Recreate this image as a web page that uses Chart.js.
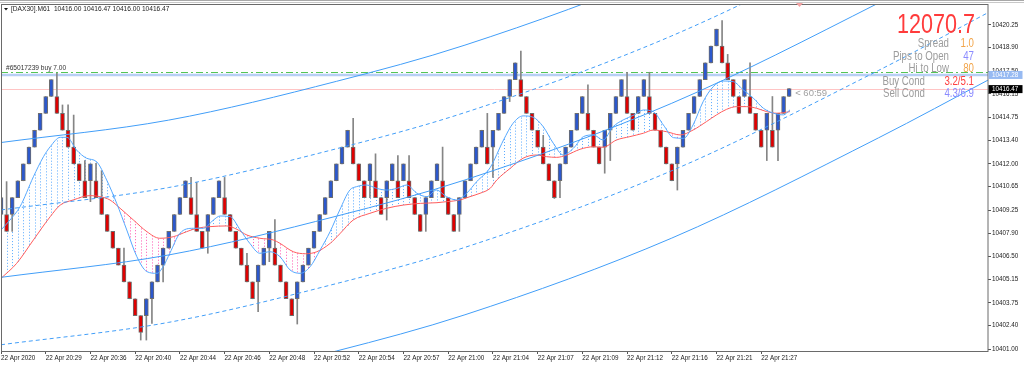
<!DOCTYPE html>
<html>
<head>
<meta charset="utf-8">
<script src="https://cdn.jsdelivr.net/npm/chart.js@4.4.1/dist/chart.umd.min.js"></script>
<style>
  html, body { margin: 0; padding: 0; background: #fff; }
  canvas { display: block; }
</style>
</head>
<body>
<canvas id="dax" width="1024" height="365"></canvas>
<script>
// renko bricks, one per bar index
const opens = [
  10409, 10409, 10409, 10410, 10411, 10412, 10413, 10414, 10415, 10416,
  10416, 10415, 10414, 10413, 10412, 10411, 10411, 10411, 10410, 10409,
  10408, 10407, 10406, 10405, 10404, 10403, 10403, 10404, 10405, 10406,
  10407, 10408, 10409, 10410, 10410, 10409, 10408, 10408, 10409, 10410,
  10410, 10409, 10408, 10407, 10406, 10405, 10405, 10406, 10407, 10407,
  10406, 10405, 10404, 10404, 10405, 10406, 10407, 10408, 10409, 10410,
  10411, 10412, 10413, 10413, 10412, 10411, 10411, 10411, 10410, 10410,
  10411, 10411, 10411, 10411, 10410, 10409, 10409, 10410, 10411, 10411,
  10410, 10409, 10409, 10410, 10411, 10412, 10413, 10413, 10413, 10414,
  10415, 10416, 10417, 10417, 10416, 10415, 10414, 10413, 10412, 10411,
  10411, 10412, 10413, 10414, 10415, 10415, 10414, 10413, 10413, 10414,
  10415, 10416, 10416, 10415, 10415, 10416, 10416, 10415, 10414, 10413,
  10412, 10412, 10413, 10414, 10415, 10416, 10417, 10418, 10419, 10419,
  10418, 10417, 10416, 10416, 10416, 10415, 10414, 10414, 10414, 10414,
  10415, 10416
];
const closes = [
  10410, 10408, 10410, 10411, 10412, 10413, 10414, 10415, 10416, 10417,
  10415, 10414, 10413, 10412, 10411, 10410, 10412, 10410, 10409, 10408,
  10407, 10406, 10405, 10404, 10403, 10402, 10404, 10405, 10406, 10407,
  10408, 10409, 10410, 10411, 10409, 10408, 10407, 10409, 10410, 10411,
  10409, 10408, 10407, 10406, 10405, 10404, 10406, 10407, 10408, 10406,
  10405, 10404, 10403, 10405, 10406, 10407, 10408, 10409, 10410, 10411,
  10412, 10413, 10414, 10412, 10411, 10410, 10412, 10410, 10409, 10411,
  10412, 10410, 10412, 10410, 10409, 10408, 10410, 10411, 10412, 10410,
  10409, 10408, 10410, 10411, 10412, 10413, 10414, 10412, 10414, 10415,
  10416, 10417, 10418, 10416, 10415, 10414, 10413, 10412, 10411, 10410,
  10412, 10413, 10414, 10415, 10416, 10414, 10413, 10412, 10414, 10415,
  10416, 10417, 10415, 10414, 10416, 10417, 10415, 10414, 10413, 10412,
  10411, 10413, 10414, 10415, 10416, 10417, 10418, 10419, 10420, 10418,
  10417, 10416, 10415, 10417, 10415, 10414, 10413, 10415, 10413, 10415,
  10416, 10416.47
];
const highs = [
  10410, 10410.95, 10410, 10411, 10412, 10413, 10414, 10415, 10416, 10417,
  10417.38, 10415.5, 10415.5, 10414.9, 10412, 10412.2, 10412, 10412.04, 10411.6, 10409,
  10408, 10407, 10407, 10405, 10404, 10403, 10404, 10405, 10406, 10407,
  10408, 10409, 10410, 10411, 10411.2, 10410.9, 10408, 10409, 10410, 10411,
  10411.2, 10409, 10408, 10407, 10406.7, 10405, 10406, 10407, 10408, 10408.7,
  10406, 10405, 10404, 10405, 10406, 10407, 10408, 10409, 10410, 10411,
  10412, 10413, 10414, 10414.7, 10412, 10411, 10412, 10412.6, 10410, 10411,
  10412, 10412.5, 10412, 10412.5, 10410, 10409, 10410, 10411, 10412, 10413,
  10410, 10409, 10410, 10411, 10412, 10413, 10414, 10415, 10414, 10415,
  10416, 10417, 10418, 10418.7, 10416, 10415, 10414, 10413.7, 10412, 10411,
  10412, 10413, 10414, 10415, 10416, 10416.7, 10414, 10413, 10414, 10415,
  10416, 10417, 10417.44, 10415, 10416, 10417, 10417.44, 10415, 10414, 10413,
  10412, 10413, 10414, 10415, 10416, 10417, 10418, 10419, 10420, 10420.5,
  10418.5, 10417, 10416, 10417, 10418, 10415, 10414, 10415, 10416, 10415,
  10416, 10416.47
];
const lows = [
  10409, 10408, 10408, 10410, 10411, 10412, 10413, 10414, 10415, 10416,
  10415, 10414, 10413, 10412, 10411, 10410, 10409.76, 10410, 10409, 10408,
  10407, 10406, 10405, 10404, 10403, 10401.55, 10401.55, 10402.54, 10405, 10405,
  10407, 10408, 10409, 10410, 10409, 10408, 10407, 10406.7, 10409, 10410,
  10409, 10408, 10407, 10406, 10405, 10404, 10403.23, 10406, 10406.2, 10406,
  10405, 10404, 10403, 10402.5, 10405, 10406, 10407, 10408, 10409, 10410,
  10411, 10412, 10413, 10412, 10411, 10410, 10410, 10410, 10409, 10408.67,
  10411, 10410, 10411, 10410, 10409, 10408, 10408, 10410, 10411, 10410,
  10409, 10408, 10408, 10410, 10411, 10412, 10413, 10412, 10411.2, 10414,
  10415, 10415.7, 10417, 10416, 10415, 10414, 10413, 10412, 10411, 10409.95,
  10410, 10412, 10413, 10414, 10415, 10414, 10413, 10412, 10411.45, 10412.2,
  10415, 10416, 10415, 10414, 10415, 10416, 10415, 10414, 10413, 10412,
  10411, 10410.45, 10413, 10414, 10415, 10416, 10417, 10418, 10419, 10418,
  10417, 10416, 10415, 10416, 10415, 10414, 10413, 10412.2, 10413, 10412.2,
  10415, 10416
];

// fast (blue) and slow (red) moving averages, read at bar positions
const fastIdx = [0, 1.6, 3.4, 5.8, 7.6, 8.8, 10.6, 11.8, 13.5, 15.3, 17.1, 18.9, 20.7, 22.5, 24.3, 26.1, 27.9, 29, 30.2,
  32, 34.4, 36.2, 38, 39.2, 41, 42.8, 44.5, 46.3, 48.1, 49.9, 51.7, 53.5, 55.3, 57.1, 58.9, 60.6, 62.4, 63.6, 65.4,
  67.2, 69, 70.8, 72.6, 74.4, 76.2, 77.9, 79.7, 81.5, 83.3, 85.1, 87.5, 89.9, 91.6, 93.4, 95.2, 97, 98.8, 100.6, 102.4,
  104.2, 106, 107.7, 109.5, 111.3, 113.3, 114.9, 116.7, 118.5, 120.3, 122.1, 123.8, 125.6, 127.4, 129.2, 131, 132.8,
  134.6, 136.4, 138.2, 140, 141.1];
const fastVal = [10408.08, 10408.67, 10409.46, 10411.24, 10412.43, 10413.02, 10413.58, 10413.58, 10412.83, 10412.34,
  10412.13, 10411.05, 10409.66, 10408.08, 10406.50, 10405.61, 10405.51, 10405.90, 10406.70, 10407.88, 10408.18,
  10408.18, 10408.67, 10408.91, 10408.87, 10408.08, 10407.29, 10406.70, 10406.79, 10406.50, 10405.71, 10405.51,
  10405.90, 10406.90, 10408.00, 10409.27, 10410.45, 10410.65, 10410.75, 10410.55, 10410.45, 10410.55, 10410.75,
  10410.26, 10410.06, 10410.45, 10410.06, 10409.86, 10410.26, 10410.95, 10411.78, 10413.42, 10414.41, 10414.85,
  10414.77, 10414.21, 10413.23, 10412.53, 10412.93, 10413.62, 10413.72, 10413.42, 10414.21, 10414.61, 10414.91,
  10415.20, 10415.10, 10414.31, 10413.56, 10413.52, 10414.31, 10415.69, 10416.58, 10416.92, 10416.88, 10416.39,
  10415.90, 10415.30, 10415.01, 10414.91, 10415.20];
const slowIdx = [0, 2.8, 5.8, 8.8, 10.6, 12.9, 15.9, 17.7, 19.5, 21.3, 23.7, 26.1, 28.4, 30.8, 33.2, 35, 37.4, 40.4,
  42.2, 44, 46.3, 48.7, 49.9, 52.3, 54.5, 56.5, 58.9, 60.6, 63, 66, 69, 72, 75, 78, 79.7, 82.1, 83.9, 85.7, 87.5, 88.7,
  91.1, 93.4, 95.8, 97.6, 99.4, 101.2, 103.6, 106, 107.7, 110.1, 112.5, 114.9, 116.7, 119.1, 121.5, 123.8, 126.2, 128,
  129.8, 131.6, 133.4, 135.2, 137, 138.8, 141.1];
const slowVal = [10405.21, 10406.10, 10407.49, 10408.87, 10409.56, 10409.86, 10410.12, 10410.06, 10409.86, 10409.37,
  10408.67, 10407.98, 10407.59, 10407.68, 10407.98, 10408.18, 10408.28, 10408.32, 10408.12, 10407.78, 10407.59,
  10407.49, 10407.29, 10406.79, 10406.67, 10406.79, 10407.29, 10407.85, 10408.67, 10409.07, 10409.37, 10409.56,
  10409.66, 10409.70, 10409.76, 10409.86, 10410.06, 10410.26, 10410.55, 10411.05, 10411.74, 10412.34, 10412.53,
  10412.43, 10412.39, 10412.53, 10412.87, 10413.02, 10412.99, 10413.42, 10413.62, 10413.82, 10414.01, 10413.91,
  10413.72, 10414.01, 10414.51, 10414.91, 10415.24, 10415.40, 10415.40, 10415.30, 10415.10, 10415.01, 10415.10];

// regression channel: middle line plus offsets
const channelIdx = [0, 30, 60, 83, 120, 157, 177];
const channelMid = [10405.27, 10406.6, 10408.9, 10411.05, 10415.6, 10421.55, 10425.05];
const channelDev = [8, 4, 0, -4, -8];

const timeTickBars = [0, 8, 16, 24, 32, 40, 48, 56, 64, 72, 80, 88, 96, 104, 112, 120, 128, 136];
const timeLabels = ['22 Apr 2020', '22 Apr 20:29', '22 Apr 20:36', '22 Apr 20:40', '22 Apr 20:44', '22 Apr 20:46',
  '22 Apr 20:48', '22 Apr 20:52', '22 Apr 20:54', '22 Apr 20:57', '22 Apr 21:00', '22 Apr 21:04', '22 Apr 21:07',
  '22 Apr 21:09', '22 Apr 21:12', '22 Apr 21:16', '22 Apr 21:21', '22 Apr 21:27'];
const priceTicks = [10401.00, 10402.40, 10403.75, 10405.15, 10406.50, 10407.90, 10409.25, 10410.65, 10412.00,
  10413.40, 10414.75, 10416.15, 10417.50, 10418.90, 10420.25];

const orderPrice = 10417.42;
const markPrice = 10417.28;
const bidPrice = 10416.47;

const infoLabels = ['Spread', 'Pips to Open', 'Hi to Low', 'Buy Cond', 'Sell Cond'];
const infoValues = ['1.0', '47', '80', '3.2/5.1', '4.3/6.9'];
const infoColors = ['#f2a54a', '#8b8bff', '#f2a54a', '#ff4040', '#8b8bff'];

const FONT = "'Liberation Sans', Arial, sans-serif";
const NARROW = "'Liberation Sans Narrow', 'Liberation Sans', Arial, sans-serif";

function interp(xs, ys, v) {
  if (v <= xs[0]) return ys[0];
  for (let k = 1; k < xs.length; k++) {
    if (v <= xs[k]) {
      const t = (v - xs[k - 1]) / (xs[k] - xs[k - 1]);
      return ys[k - 1] + t * (ys[k] - ys[k - 1]);
    }
  }
  return ys[ys.length - 1];
}

const bodyColors = opens.map((o, i) => closes[i] >= o ? '#2c58cc' : '#e00000');

const channelSets = channelDev.map(d => ({
  type: 'line',
  data: channelIdx.map((ix, k) => ({ x: ix, y: channelMid[k] + d })),
  borderColor: '#429ef8',
  borderWidth: 1,
  borderDash: Math.abs(d) === 4 ? [4, 3] : [],
  pointRadius: 0,
  cubicInterpolationMode: 'monotone',
  order: 0
}));

const backPlugin = {
  id: 'back',
  beforeDatasetsDraw(chart) {
    const { ctx, chartArea: a, scales: { x, y } } = chart;
    ctx.save();
    ctx.beginPath();
    ctx.rect(a.left, a.top, a.width, a.height);
    ctx.clip();
    // dotted fill between the two averages
    ctx.lineWidth = 1;
    ctx.setLineDash([1, 2]);
    opens.forEach((_, i) => {
      const f = interp(fastIdx, fastVal, i);
      const s = interp(slowIdx, slowVal, i);
      const px = Math.round(x.getPixelForValue(i)) + 0.5;
      ctx.strokeStyle = f >= s ? '#5aaaff' : '#ff55b0';
      ctx.beginPath();
      ctx.moveTo(px, y.getPixelForValue(f));
      ctx.lineTo(px, y.getPixelForValue(s));
      ctx.stroke();
    });
    // horizontal price lines
    const yb = Math.round(y.getPixelForValue(bidPrice)) + 0.5;
    ctx.setLineDash([]);
    ctx.strokeStyle = '#ffc4c4';
    ctx.beginPath(); ctx.moveTo(a.left, yb); ctx.lineTo(a.right, yb); ctx.stroke();
    const ym = y.getPixelForValue(markPrice);
    ctx.strokeStyle = '#b7cff5';
    ctx.lineWidth = 2.5;
    ctx.beginPath(); ctx.moveTo(a.left, ym); ctx.lineTo(a.right, ym); ctx.stroke();
    const yo = Math.round(y.getPixelForValue(orderPrice)) - 0.5;
    ctx.strokeStyle = '#55c455';
    ctx.lineWidth = 1;
    ctx.setLineDash([7, 3, 2, 3]);
    ctx.beginPath(); ctx.moveTo(a.left, yo); ctx.lineTo(a.right, yo); ctx.stroke();
    ctx.restore();
  },
  afterDraw(chart) {
    const { ctx, chartArea: a, scales: { x, y } } = chart;
    ctx.save();
    // window edge and chart frame
    ctx.fillStyle = '#a8a8a8';
    ctx.fillRect(0, 0, 1024, 1);
    ctx.fillStyle = '#c8c8c8';
    ctx.fillRect(0, 2, 1024, 1);
    ctx.strokeStyle = '#6a6a6a';
    ctx.lineWidth = 1;
    ctx.strokeRect(a.left + 0.5, a.top + 0.5, a.width - 0.5, a.height);

    // header
    ctx.fillStyle = '#111';
    ctx.beginPath(); ctx.moveTo(4, 8); ctx.lineTo(8, 8); ctx.lineTo(6, 10.5); ctx.closePath(); ctx.fill();
    ctx.font = '6.6px ' + FONT;
    ctx.textBaseline = 'middle';
    ctx.textAlign = 'left';
    ctx.fillStyle = '#222';
    ctx.fillText('[DAX30].M61  10416.00 10416.47 10416.00 10416.47', 11, 9.5);
    ctx.fillStyle = '#333';
    ctx.fillText('#65017239 buy 7.00', 6, y.getPixelForValue(orderPrice) - 4);

    // price boxes on the axis
    const ym = y.getPixelForValue(markPrice);
    ctx.fillStyle = '#97baf2';
    ctx.fillRect(a.right + 0.5, ym - 4, 34, 8);
    ctx.fillStyle = '#fff';
    ctx.font = '6.3px ' + FONT;
    ctx.fillText(markPrice.toFixed(2), a.right + 4, ym + 0.3);
    const yb = y.getPixelForValue(bidPrice);
    ctx.fillStyle = '#000';
    ctx.fillRect(a.right + 0.5, yb - 3.5, 34, 8);
    ctx.fillStyle = '#fff';
    ctx.fillText(bidPrice.toFixed(2), a.right + 4, yb + 0.5);

    // countdown next to the forming brick
    const last = opens.length - 1;
    ctx.fillStyle = '#a0a0a0';
    ctx.font = '9.5px ' + FONT;
    ctx.fillText('< 60:59', x.getPixelForValue(last) + 6, yb + 4.5);

    // small marker at the top
    ctx.fillStyle = '#f3a3a3';
    ctx.beginPath(); ctx.moveTo(796, 3); ctx.lineTo(803, 3); ctx.lineTo(799.5, 7); ctx.closePath(); ctx.fill();

    // info panel
    ctx.textBaseline = 'alphabetic';
    ctx.textAlign = 'right';
    ctx.font = '28px ' + NARROW;
    let w = ctx.measureText('12070.7').width;
    ctx.save();
    ctx.translate(975, 33.3);
    ctx.scale(78 / w, 1);
    ctx.fillStyle = '#ff3b3b';
    ctx.fillText('12070.7', 0, 0);
    ctx.restore();

    ctx.font = '12px ' + NARROW;
    const k = 56 / ctx.measureText('Pips to Open').width;
    const rowY = [47, 60, 72, 85, 97];
    const labelRight = [949, 949, 949, 925, 925];
    infoLabels.forEach((lab, r) => {
      ctx.save();
      ctx.translate(labelRight[r], rowY[r]);
      ctx.scale(k, 1);
      ctx.fillStyle = '#9c9c9c';
      ctx.fillText(lab, 0, 0);
      ctx.restore();
      ctx.save();
      ctx.translate(974, rowY[r]);
      ctx.scale(k, 1);
      ctx.fillStyle = infoColors[r];
      ctx.fillText(infoValues[r], 0, 0);
      ctx.restore();
    });
    ctx.restore();
  }
};

new Chart(document.getElementById('dax'), {
  type: 'bar',
  data: {
    datasets: [
      ...channelSets,
      {
        type: 'line',
        data: fastIdx.map((ix, k) => ({ x: ix, y: fastVal[k] })),
        borderColor: '#55a8ff',
        borderWidth: 1,
        pointRadius: 0,
        cubicInterpolationMode: 'monotone',
        order: 1
      },
      {
        type: 'line',
        data: slowIdx.map((ix, k) => ({ x: ix, y: slowVal[k] })),
        borderColor: '#ff5c5c',
        borderWidth: 1,
        pointRadius: 0,
        cubicInterpolationMode: 'monotone',
        order: 1
      },
      {
        type: 'bar',
        data: opens.map((o, i) => ({ x: i, y: [o, closes[i]] })),
        backgroundColor: bodyColors,
        borderColor: '#6e6e6e',
        borderWidth: 1,
        borderSkipped: false,
        barThickness: 4,
        grouped: false,
        order: 2
      },
      {
        type: 'bar',
        data: lows.map((l, i) => ({ x: i, y: [l, highs[i]] })),
        backgroundColor: '#858585',
        borderWidth: 0,
        barThickness: 1,
        grouped: false,
        order: 3
      }
    ]
  },
  options: {
    responsive: false,
    animation: false,
    devicePixelRatio: 1,
    layout: { padding: { left: 1, top: 4, right: 0, bottom: 0 } },
    plugins: { legend: { display: false }, tooltip: { enabled: false } },
    scales: {
      x: {
        type: 'linear',
        min: 0,
        max: 176.57,
        offset: false,
        border: { display: false },
        grid: { drawOnChartArea: false, drawTicks: true, tickLength: 3, color: '#555', offset: false },
        afterBuildTicks: s => { s.ticks = timeTickBars.map(v => ({ value: v })); },
        afterFit: s => { s.height = 14; s.paddingLeft = 0; s.paddingRight = 0; },
        ticks: {
          autoSkip: false, maxRotation: 0, minRotation: 0, align: 'start', padding: 0,
          color: '#1a1a1a', font: { family: FONT, size: 6.3 },
          callback: (v, i) => timeLabels[i]
        }
      },
      y: {
        type: 'linear',
        position: 'right',
        min: 10400.90,
        max: 10421.49,
        border: { display: false },
        grid: { drawOnChartArea: false, drawTicks: true, tickLength: 3, color: '#555' },
        afterBuildTicks: s => { s.ticks = priceTicks.map(v => ({ value: v })); },
        afterFit: s => { s.width = 36; s.paddingTop = 0; s.paddingBottom = 0; },
        ticks: {
          autoSkip: false, padding: 1, crossAlign: 'near',
          color: '#1a1a1a', font: { family: FONT, size: 6.3 },
          callback: v => v.toFixed(2)
        }
      }
    }
  },
  plugins: [backPlugin]
});
</script>
</body>
</html>
